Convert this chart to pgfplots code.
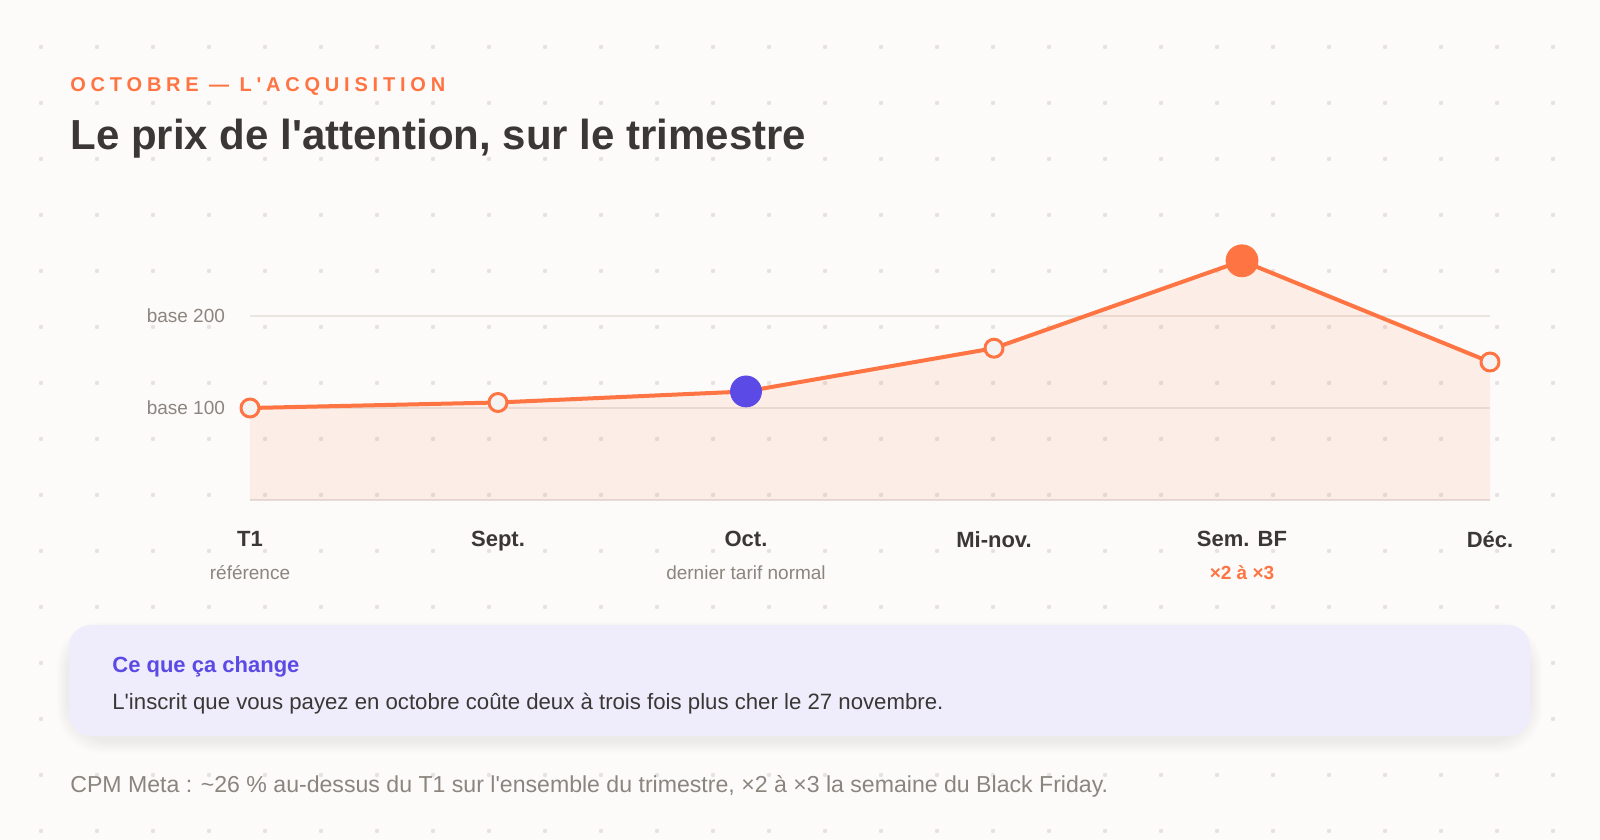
\documentclass[border=0pt]{standalone}
\usepackage{pgfplots}
\pgfplotsset{compat=1.18}
\usepackage{fontspec}
\setmainfont{Liberation Sans}[Ligatures=TeXOff]

\definecolor{bg}{HTML}{FCFBF9}
\definecolor{dotc}{HTML}{E6E2DE}
\definecolor{acc}{HTML}{FF7443}
\definecolor{purp}{HTML}{5B4AE6}
\definecolor{darktxt}{HTML}{3A3735}
\definecolor{graytxt}{HTML}{8C857F}
\definecolor{gridc}{HTML}{E9E5E1}
\definecolor{basec}{HTML}{E4E0DC}
\definecolor{boxc}{HTML}{EFEDFC}
\definecolor{markfill}{HTML}{F5F3F2}

\newcommand{\ticklab}[2]{{\fontsize{11}{13}\selectfont\bfseries\color{darktxt}#1}\\[4.5pt]{\fontsize{9.5}{11}\selectfont #2}}

\begin{document}
\begin{tikzpicture}
% page, background dots
\begin{scope}[x=0.5pt,y=-0.5pt]
\fill[bg] (0,0) rectangle (1600,840);
\foreach \i in {0,...,27}{\foreach \j in {0,...,14}{\fill[dotc] (41+56*\i,47+56*\j) circle[radius=1.1pt];}}
\node[anchor=base west,inner sep=0,text=acc,font=\fontsize{10}{12}\selectfont\bfseries\addfontfeature{LetterSpace=24}] at (70,91) {OCTOBRE — L'ACQUISITION};
\node[anchor=base west,inner sep=0,text=darktxt,font=\fontsize{21}{25}\selectfont\bfseries] at (70,149) {Le prix de l'attention, sur le trimestre};
\end{scope}

\begin{axis}[
    at={(125pt,-250pt)}, anchor=south west,
    scale only axis, width=620pt, height=128.8pt,
    xmin=0, xmax=5, ymin=0, ymax=280,
    axis lines=left, axis line style={-},
    x axis line style={draw=basec, line width=1pt},
    y axis line style={draw=none},
    major tick length=0,
    clip=false,
    xtick={0,1,2,3,4,5},
    xticklabels={
      {\ticklab{T1}{\color{graytxt}référence}},
      {\ticklab{Sept.}{}},
      {\ticklab{Oct.}{\color{graytxt}dernier tarif normal}},
      {\ticklab{Mi-nov.}{}},
      {\ticklab{Sem. BF}{\color{acc}\bfseries ×2 à ×3}},
      {\ticklab{Déc.}{}}},
    xticklabel style={align=center, anchor=north, yshift=-12pt},
    ytick={100,200},
    yticklabels={base 100, base 200},
    yticklabel style={anchor=east, xshift=-9pt, text=graytxt, font=\fontsize{9.5}{11}\selectfont},
    ymajorgrids, grid style={gridc, line width=0.8pt},
]
\addplot[draw=none, fill=acc, fill opacity=0.1]
    coordinates {(0,100)(1,106)(2,118)(3,165)(4,260)(5,150)} \closedcycle;
\addplot[acc, line width=2pt, line join=round,
    mark=*, mark size=4.5pt, mark options={fill=markfill, draw=acc, line width=1.5pt}]
    coordinates {(0,100)(1,106)(2,118)(3,165)(4,260)(5,150)};
\addplot[only marks, mark=*, mark size=7.75pt, mark options={fill=purp, draw=purp}]
    coordinates {(2,118)};
\addplot[only marks, mark=*, mark size=8pt, mark options={fill=acc, draw=acc}]
    coordinates {(4,260)};
\end{axis}

% note box and footer
\begin{scope}[x=0.5pt,y=-0.5pt]
\foreach \k in {1,...,8}{
  \fill[black, opacity=0.008, rounded corners=22pt] (69-\k*1.5,625-\k+5) rectangle (1530+\k*1.5,736+\k*1.5+5);}
\fill[boxc, rounded corners=11pt] (69,625) rectangle (1530,736);
\node[anchor=base west,inner sep=0,text=purp,font=\fontsize{11}{13}\selectfont\bfseries] at (112,672) {Ce que ça change};
\node[anchor=base west,inner sep=0,text=darktxt,font=\fontsize{11.1}{13}\selectfont] at (112,709) {L'inscrit que vous payez en octobre coûte deux à trois fois plus cher le 27 novembre.};
\node[anchor=base west,inner sep=0,text=graytxt,font=\fontsize{11.55}{13}\selectfont] at (70,792) {CPM Meta : \textasciitilde26 \% au-dessus du T1 sur l'ensemble du trimestre, ×2 à ×3 la semaine du Black Friday.};
\end{scope}
\end{tikzpicture}
\end{document}
